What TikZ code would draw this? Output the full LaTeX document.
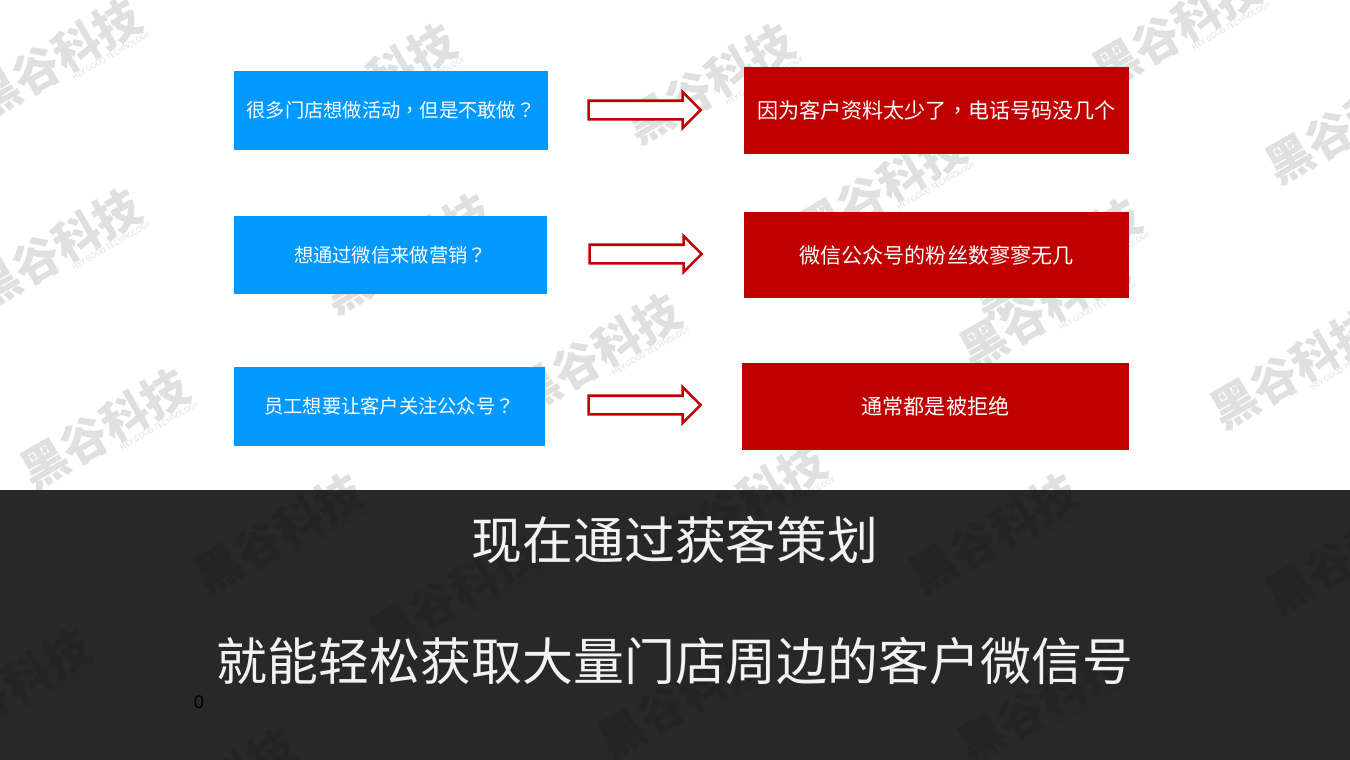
\documentclass[tikz,border=0pt]{standalone}
\usepackage{fontspec}
\usepackage{xcolor}
\newfontfamily\cjk{Noto Sans CJK SC}
\newfontfamily\punctfont{Noto Sans CJK TC}
\newfontfamily\digitfont{Liberation Sans}
\definecolor{skyblue}{HTML}{0099FF}
\definecolor{darkred}{HTML}{C00000}
\definecolor{bandgray}{HTML}{282828}
\definecolor{markgray}{HTML}{E0E0E0}
\definecolor{markdark}{HTML}{242424}
\usetikzlibrary{shapes.arrows}
\tikzset{
	markbox/.style={rotate=30, inner sep=0pt, align=right, font=\cjk\bfseries\fontsize{33}{33}\selectfont},
	bluebox/.style={fill=skyblue, text=white, inner sep=0pt, outer sep=0pt, font=\cjk\fontsize{13.7}{17}\selectfont},
	redbox/.style={fill=darkred, text=white, inner sep=0pt, outer sep=0pt, font=\cjk\fontsize{15}{18}\selectfont},
	hollowarrow/.style={single arrow, draw=darkred, fill=white, line width=1.8pt, inner xsep=0pt, inner ysep=0.2cm,
		minimum width=0.85cm, minimum height=2.8cm, single arrow head extend=0.22cm, single arrow tip angle=90},
	bandtext/.style={text=white!95!black, inner sep=0pt, font=\cjk\fontsize{36.2}{43}\selectfont}
}
\newcommand{\marktext}{黑谷科技\\[-26pt]{\fontsize{5.4}{6}\selectfont\mdseries HEY GOOD TECHNOLOGY}}
\newcommand{\marklist}{58/61, 373/86, 711/86, 1178/31, 1351/126, 58/251, 408/256, 883/191, 1058/261,
	598/356, 1045/311, 1296/371, 106/431, 280/536, 743/506, 995/536, 1351/556, 455/596, 8/691,
	683/701, 1043/706, 213/791}

\begin{document}
\begin{tikzpicture}[x=0.025cm, y=-0.025cm]
	\useasboundingbox (0,0) rectangle (1350,759);
	\fill[white] (0,0) rectangle (1350,759);

	% watermark
	\foreach \px/\py [count=\i] in \marklist
		\node[markbox, text=markgray] (mark\i) at (\px,\py) {\marktext};

	% dark band
	\fill[bandgray] (0,490) rectangle (1350,765);
	\begin{scope}
		\clip (0,490) rectangle (1350,765);
		\foreach \px/\py [count=\i] in \marklist
			\node[markbox, text=markdark] (dark\i) at (\px,\py) {\marktext};
	\end{scope}

	% top row
	\node[bluebox, minimum width=7.85cm, minimum height=1.975cm] (ask1) at (391,110.5) {很多门店想做活动{\punctfont ，}但是不敢做{\punctfont ？}};
	\node[hollowarrow] (arrow1) at (640,110) {};
	\node[redbox, minimum width=9.625cm, minimum height=2.175cm] (why1) at (936.5,110.5) {因为客户资料太少了{\punctfont ，}电话号码没几个};

	% middle row
	\node[bluebox, minimum width=7.825cm, minimum height=1.95cm] (ask2) at (390.5,255) {想通过微信来做营销{\punctfont ？}};
	\node[hollowarrow] (arrow2) at (641,254) {};
	\node[redbox, minimum width=9.625cm, minimum height=2.15cm] (why2) at (936.5,255) {微信公众号的粉丝数寥寥无几};

	% bottom row
	\node[bluebox, minimum width=7.775cm, minimum height=1.975cm] (ask3) at (389.5,406.5) {员工想要让客户关注公众号{\punctfont ？}};
	\node[hollowarrow] (arrow3) at (640,405) {};
	\node[redbox, minimum width=9.675cm, minimum height=2.175cm] (why3) at (935.5,406.5) {通常都是被拒绝};

	% band text
	\node[bandtext] (line1) at (675,540) {现在通过获客策划};
	\node[bandtext] (line2) at (675,661) {就能轻松获取大量门店周边的客户微信号};
	\node[inner sep=0pt, text=black, font=\digitfont\fontsize{13}{15}\selectfont] (zero) at (199,702) {0};
\end{tikzpicture}
\end{document}
